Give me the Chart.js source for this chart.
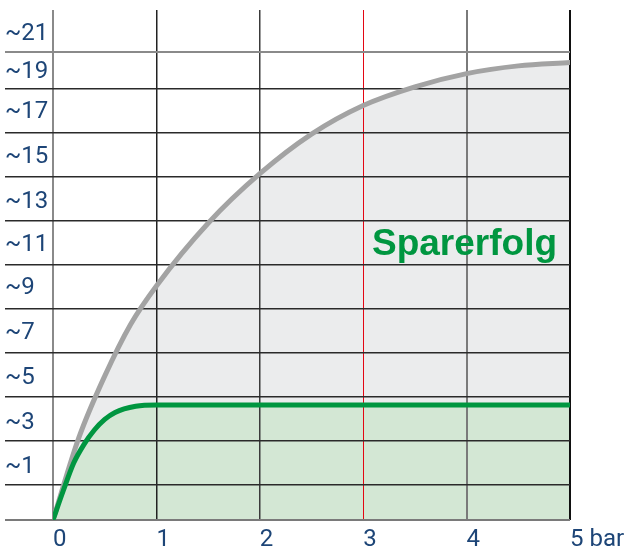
<!DOCTYPE html>
<html>
<head>
<meta charset="utf-8">
<script src="https://cdn.jsdelivr.net/npm/chart.js@4/dist/chart.umd.min.js"></script>
<style>
  html, body { margin: 0; padding: 0; background: #fff; }
  canvas { display: block; }
</style>
</head>
<body>
<canvas id="myChart" width="637" height="554"></canvas>
<script>
// x axis: pressure in bar
const xTicks = [0, 1, 2, 3, 4, 5];
const xTickLabels = ['0', '1', '2', '3', '4', '5 bar'];

// y axis: horizontal grid lines and the "~n" labels that sit between them
const yMin = -1.59;
const yMax = 21.59;
const yGridValues = [yMin, 0, 2, 4, 6, 8, 10, 12, 14, 16, 18, 19.7];
const yLabelValues = [0.82, 2.82, 4.86, 6.9, 8.95, 10.9, 12.86, 14.9, 16.95, 18.77, 20.5];
const yLabelTexts = ['~1', '~3', '~5', '~7', '~9', '~11', '~13', '~15', '~17', '~19', '~21'];

// grey curve (upper)
const grauX = [0, 0.25, 0.5, 0.75, 1, 1.5, 2, 2.5, 3, 3.5, 4, 4.5, 5];
const grauY = [yMin, 2.15, 4.95, 7.3, 9.05, 11.9, 14.15, 15.95, 17.25, 18.1, 18.7, 19.05, 19.2];

// green curve (lower)
const gruenX = [0, 0.1, 0.2, 0.3, 0.4, 0.5, 0.6, 0.8, 1, 2, 3, 4, 5];
const gruenY = [yMin, -0.25, 1.0, 1.85, 2.5, 2.98, 3.3, 3.58, 3.64, 3.64, 3.64, 3.64, 3.64];

const labelText = 'Sparerfolg';
const labelAt = { x: 3.085, y: 10.45 };

const blau = '#1d4577';
const gruen = '#009640';

function toPoints(xs, ys) {
  return xs.map((x, i) => ({ x: x, y: ys[i] }));
}

// grid colours for the vertical lines, red one at 3 bar
const xGridColors = ['#8a8a8a', '#222222', '#3a3a3a', '#e30613', '#7a7a7a', '#111111'];
const xGridWidths = [2, 1.5, 1.5, 1, 2, 2];

const sparerfolgPlugin = {
  id: 'sparerfolg',
  afterDatasetsDraw(chart) {
    const ctx = chart.ctx;
    const px = chart.scales.x.getPixelForValue(labelAt.x);
    const py = chart.scales.y.getPixelForValue(labelAt.y);
    ctx.save();
    ctx.font = 'bold 37px "Liberation Sans", Arial, sans-serif';
    ctx.fillStyle = gruen;
    ctx.textAlign = 'left';
    ctx.textBaseline = 'alphabetic';
    ctx.fillText(labelText, px, py);
    ctx.restore();
  }
};

let ctx = document.getElementById('myChart').getContext('2d');

let myChart = new Chart(ctx, {
  type: 'line',
  data: {
    datasets: [
      {
        label: 'gruen',
        data: toPoints(gruenX, gruenY),
        borderColor: gruen,
        backgroundColor: '#d3e7d4',
        borderWidth: 5,
        borderCapStyle: 'round',
        fill: 'start',
        pointRadius: 0,
        cubicInterpolationMode: 'monotone'
      },
      {
        label: 'grau',
        data: toPoints(grauX, grauY),
        borderColor: '#a3a3a3',
        backgroundColor: '#ebeced',
        borderWidth: 5,
        borderCapStyle: 'round',
        fill: 'start',
        pointRadius: 0,
        cubicInterpolationMode: 'monotone'
      }
    ]
  },
  options: {
    responsive: false,
    animation: false,
    devicePixelRatio: 1,
    layout: { padding: { left: 5, right: 67, top: 10, bottom: 0 } },
    plugins: {
      legend: { display: false },
      tooltip: { enabled: false },
      filler: { drawTime: 'beforeDraw' }
    },
    scales: {
      x: {
        type: 'linear',
        min: 0,
        max: 5,
        afterBuildTicks: (scale) => { scale.ticks = xTicks.map(v => ({ value: v })); },
        afterFit: (scale) => {
          scale.height = 34;
          scale.paddingLeft = 0;
          scale.paddingRight = 0;
        },
        border: { display: false },
        grid: {
          drawTicks: false,
          color: (c) => xGridColors[xTicks.indexOf(c.tick.value)] || '#222',
          lineWidth: (c) => xGridWidths[xTicks.indexOf(c.tick.value)] || 1.5
        },
        ticks: {
          autoSkip: false,
          maxRotation: 0,
          align: 'start',
          padding: 6,
          color: blau,
          font: { family: 'Roboto', size: 24 },
          callback: (value) => xTickLabels[xTicks.indexOf(value)]
        }
      },
      y: {
        type: 'linear',
        min: yMin,
        max: yMax,
        afterBuildTicks: (scale) => {
          scale.ticks = yGridValues.concat(yLabelValues)
            .sort((a, b) => a - b)
            .map(v => ({ value: v }));
        },
        afterFit: (scale) => {
          scale.width = 48;
          scale.paddingTop = 0;
          scale.paddingBottom = 0;
        },
        border: { display: false },
        grid: {
          tickLength: 48,
          color: (c) => {
            const v = c.tick.value;
            if (yLabelValues.includes(v)) return 'rgba(0,0,0,0)';
            if (v === yMin) return '#7a7a7a';
            if (v === 19.7) return '#8a8a8a';
            return '#2a2a2a';
          },
          lineWidth: (c) => {
            const v = c.tick.value;
            if (v === yMin || v === 19.7) return 2;
            return 1.5;
          }
        },
        ticks: {
          autoSkip: false,
          crossAlign: 'far',
          color: blau,
          font: { family: 'Roboto', size: 24 },
          callback: (value) => {
            const i = yLabelValues.indexOf(value);
            return i >= 0 ? yLabelTexts[i] : '';
          }
        }
      }
    }
  },
  plugins: [sparerfolgPlugin]
});
</script>
</body>
</html>
